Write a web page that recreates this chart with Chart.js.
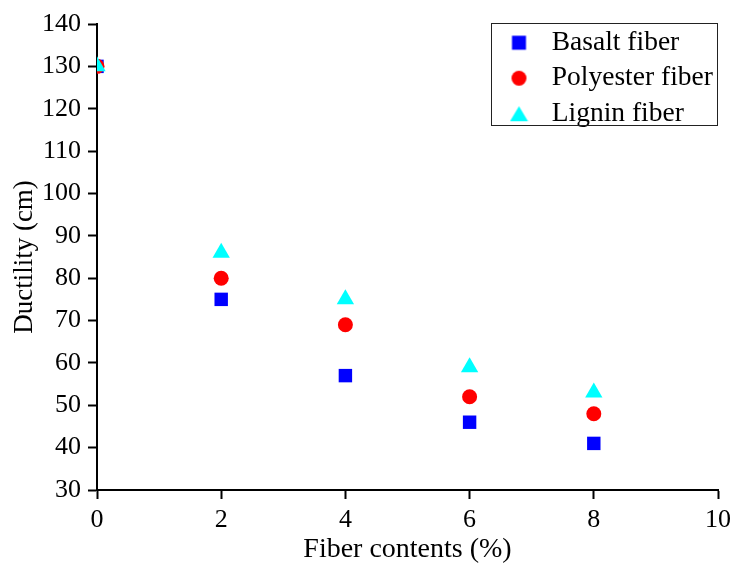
<!DOCTYPE html>
<html>
<head>
<meta charset="utf-8">
<script src="https://cdn.jsdelivr.net/npm/chart.js@4/dist/chart.umd.min.js"></script>
<style>
  body { margin: 0; background: #fff; }
  #chart { display: block; }
</style>
</head>
<body>
<canvas id="chart" width="737" height="566"></canvas>
<script>
const fiberContents = [0, 2, 4, 6, 8];
const basaltFiber = [130, 75, 57, 46, 41];
const polyesterFiber = [130, 80, 69, 52, 48];
const ligninFiber = [130, 86, 75, 59, 53];
const seriesNames = ["Basalt fiber", "Polyester fiber", "Lignin fiber"];

const SERIF = '"Liberation Serif", "Times New Roman", serif';
Chart.defaults.font.family = SERIF;
Chart.defaults.color = "#000";

function toPoints(values) {
  return fiberContents.map((x, i) => ({ x: x, y: values[i] }));
}

// small marker images for the legend, so each entry keeps its own size
function makeIcon(kind, color) {
  const c = document.createElement("canvas");
  c.width = 19; c.height = 17;
  const g = c.getContext("2d");
  g.fillStyle = color;
  if (kind === "rect") g.fillRect(2.5, 1.5, 14, 14);
  else if (kind === "circle") { g.beginPath(); g.arc(9.5, 8.5, 7.5, 0, Math.PI * 2); g.fill(); }
  else { g.beginPath(); g.moveTo(9.5, 1); g.lineTo(18.5, 16); g.lineTo(0.5, 16); g.closePath(); g.fill(); }
  return c;
}
const legendIcons = [makeIcon("rect", "#0000ff"), makeIcon("circle", "#ff0000"), makeIcon("triangle", "#00ffff")];

const legendBox = {
  id: "legendBox",
  afterLayout(chart) {
    const lg = chart.legend, ca = chart.chartArea;
    lg.left = ca.right - 226;
    lg.right = ca.right - 1;
    lg.top = ca.top - 3;
    lg.bottom = lg.top + 140;
    lg.width = lg.right - lg.left;
    lg.height = lg.bottom - lg.top;
  },
  afterDraw(chart) {
    const ca = chart.chartArea, ctx = chart.ctx;
    ctx.save();
    ctx.strokeStyle = "#222";
    ctx.lineWidth = 1;
    ctx.strokeRect(Math.round(ca.right - 227) + 0.5, Math.round(ca.top - 1) + 0.5, 226, 102);
    ctx.restore();
  }
};

new Chart(document.getElementById("chart"), {
  type: "scatter",
  data: {
    datasets: [
      { label: seriesNames[0], data: toPoints(basaltFiber), pointStyle: "rect", pointRadius: 9.5,
        backgroundColor: "#0000ff", borderWidth: 0, order: 2, clip: 0 },
      { label: seriesNames[1], data: toPoints(polyesterFiber), pointStyle: "circle", pointRadius: 7.5,
        backgroundColor: "#ff0000", borderWidth: 0, order: 1, clip: 0 },
      { label: seriesNames[2], data: toPoints(ligninFiber), pointStyle: "triangle", pointRadius: 10,
        backgroundColor: "#00ffff", borderWidth: 0, order: 0, clip: 0 },
    ],
  },
  options: {
    responsive: false,
    animation: false,
    layout: { padding: { top: 24, right: 15, left: 0, bottom: 0 } },
    plugins: {
      tooltip: { enabled: false },
      legend: {
        position: "chartArea",
        align: "start",
        labels: {
          usePointStyle: true,
          pointStyleWidth: 38,
          boxHeight: 26,
          padding: 8,
          color: "#000",
          font: { size: 27.5 },
          generateLabels(chart) {
            return chart.data.datasets.map((ds, i) => ({
              text: ds.label,
              pointStyle: legendIcons[i],
              fillStyle: ds.backgroundColor,
              strokeStyle: ds.backgroundColor,
              lineWidth: 0,
              fontColor: "#000",
              hidden: false,
              datasetIndex: i,
            }));
          },
        },
      },
    },
    scales: {
      x: {
        type: "linear",
        min: 0,
        max: 10,
        ticks: { stepSize: 2, padding: 6, font: { size: 26 }, color: "#000" },
        grid: { drawOnChartArea: false, drawTicks: true, tickLength: 9, tickWidth: 2, tickColor: "#000" },
        border: { color: "#000", width: 2 },
        title: { display: true, text: "Fiber contents (%)", font: { size: 28 }, color: "#000", padding: { top: 0, bottom: 0 } },
        afterFit(s) { s.height = 76; },
      },
      y: {
        min: 30,
        max: 140,
        ticks: { stepSize: 10, padding: 7, font: { size: 26 }, color: "#000" },
        grid: { drawOnChartArea: false, drawTicks: true, tickLength: 9, tickWidth: 2, tickColor: "#000" },
        border: { color: "#000", width: 2 },
        title: { display: true, text: "Ductility (cm)", font: { size: 27 }, color: "#000", padding: { top: 9, bottom: 0 } },
        afterFit(s) { s.width = 97; },
      },
    },
  },
  plugins: [legendBox],
});
</script>
</body>
</html>
